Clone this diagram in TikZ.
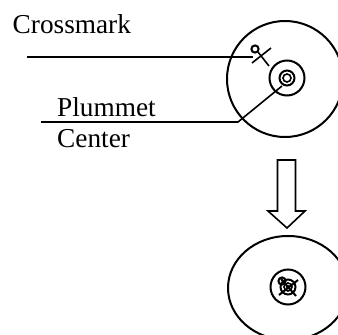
\documentclass[tikz,border=0pt]{standalone}
\usepackage{fontspec}
\setmainfont{Liberation Serif}
\tikzset{ink/.style={line width=2pt,black},thinink/.style={line width=1.6pt,black},lab/.style={inner sep=0pt,anchor=base west,font=\fontsize{27.3}{27.3}\selectfont}}
\begin{document}
\begin{tikzpicture}[x=1pt,y=-1pt]
\useasboundingbox (0,0) rectangle (338,335);
\clip (0,0) rectangle (338,335);
\node[lab] (crossmark) at (12.5,33) {Crossmark};
\node[lab] (plummet) at (57,116) {Plummet};
\node[lab] (center) at (57,147) {Center};
\coordinate (c1) at (285,79);
\coordinate (c2) at (288,288);
\draw[ink] (c1) circle (58);
\draw[ink] (287,78) circle (17.5);
\draw[ink] (287,78) circle (7.5);
\draw[thinink] (287,78) circle (4);
\coordinate (a1) at (27,57);
\coordinate (a2) at (253,57);
\draw[thinink] (a1) -- (a2);
\coordinate (b1) at (41,122);
\coordinate (b2) at (238,122);
\coordinate (b3) at (282,86);
\draw[thinink] (b1) -- (b2) -- (b3);
\draw[ink] (255,49) circle (3.6);
\draw[thinink] (252,63) -- (271,48);
\draw[thinink] (258,52) -- (269,66);
\draw[thinink,line join=miter] (277.5,160) -- (277.5,211) -- (268,211) -- (287,228) -- (305,211) -- (295.5,211) -- (295.5,160) -- cycle;
\draw[ink] (c2) ellipse (60 and 52);
\draw[ink] (288,287) circle (17.5);
\draw[ink] (288,287) circle (7.5);
\draw[thinink] (288,287) circle (4);
\fill (288,287) circle (2);
\draw[ink] (282,281) circle (3.6);
\draw[ink] (279,295) -- (298,280);
\draw[ink] (281,279) -- (296,296);
\end{tikzpicture}
\end{document}
